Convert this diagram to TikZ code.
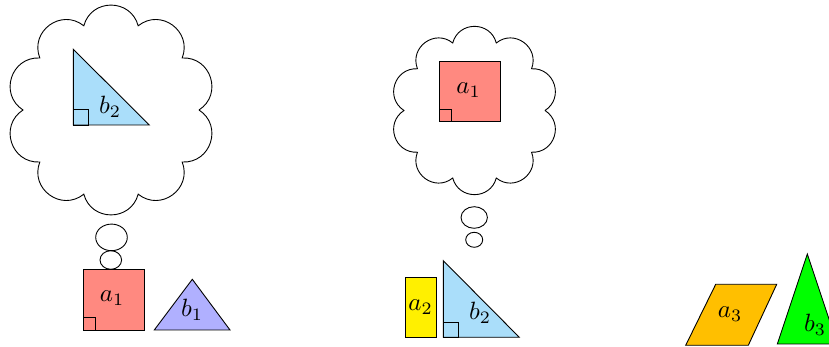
\documentclass[tikz,border=0pt]{standalone}
\definecolor{salmonA}{RGB}{255,137,128}
\definecolor{skyB}{RGB}{170,222,250}
\definecolor{lavB}{RGB}{176,176,255}
\definecolor{yelA}{RGB}{255,240,0}
\definecolor{ambA}{RGB}{255,191,0}
\definecolor{grnB}{RGB}{0,255,0}
\newcommand\thoughtcloud[4]{%
  \draw[outl] ({#1+#3},#2) \foreach \k in {1,...,10}{ to[bend right=75,looseness=1.35] ({#1+#3*cos(36*\k)},{#2+#4*sin(36*\k)}) };}
\begin{document}
\begin{tikzpicture}[x=1pt,y=1pt,
  outl/.style={draw=black, line width=0.9pt, line join=miter},
  lbl/.style={scale=2.5, inner sep=0pt}]
\useasboundingbox (0,0) rectangle (829,347);
% ---------- left group ----------
\thoughtcloud{111}{237}{88}{88.5}
\draw[outl] (111.5,109.6) ellipse [x radius=15.8, y radius=13.3];
\draw[outl] (110.8,87) ellipse [x radius=10.8, y radius=9.3];
% b2 in cloud
\draw[outl, fill=skyB] (73.3,222) -- (149.3,222) -- (73.3,297.7) -- cycle;
\draw[outl] (73.3,222) rectangle ++(15.5,15.5);
\node[lbl] (lb2) at (110,240) {$b_2$};
% a1 square
\draw[outl, fill=salmonA] (83.3,17) rectangle (144,77.7);
\draw[outl] (83.3,17) rectangle ++(12.3,12.3);
\node[lbl] (la1) at (112,49) {$a_1$};
% b1 triangle
\draw[outl, fill=lavB] (154.3,17) -- (230,17) -- (192.3,67.7) -- cycle;
\node[lbl] (lb1) at (192,37) {$b_1$};
% ---------- middle group ----------
\thoughtcloud{474.5}{236.5}{70.5}{71}
\draw[outl] (474.2,129.5) ellipse [x radius=13.2, y radius=10.8];
\draw[outl] (474.2,107.2) ellipse [x radius=8.5, y radius=7.5];
\draw[outl, fill=salmonA] (439.3,225.3) rectangle (500,286);
\draw[outl] (439.3,225.3) rectangle ++(12.3,12.3);
\node[lbl] (ma1) at (468.5,257) {$a_1$};
\draw[outl, fill=yelA] (405.7,9.7) rectangle (436,69.7);
\node[lbl] (ma2) at (420.5,39.7) {$a_2$};
\draw[outl, fill=skyB] (443.3,9.7) -- (519.3,9.7) -- (443.3,86.3) -- cycle;
\draw[outl] (443.3,9.7) rectangle ++(15.3,15.3);
\node[lbl] (mb2) at (480,34) {$b_2$};
% ---------- right group ----------
\draw[outl, fill=ambA] (685.7,1.7) -- (748.3,1.7) -- (776.7,62.7) -- (715.7,62.7) -- cycle;
\node[lbl] (ra3) at (730,33) {$a_3$};
\draw[outl, fill=grnB] (777.3,3) -- (837.3,3) -- (807.3,93) -- cycle;
\node[lbl] (rb3) at (815,22) {$b_3$};
\end{tikzpicture}
\end{document}
